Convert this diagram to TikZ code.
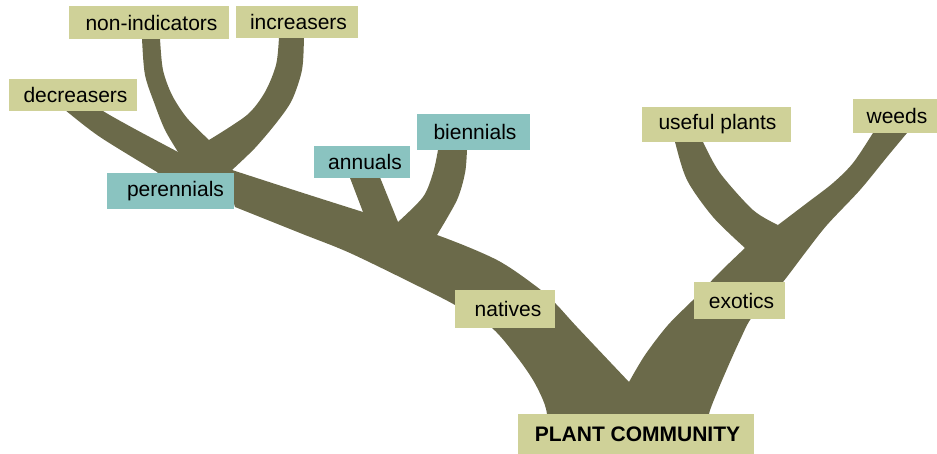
\documentclass[tikz,border=0pt]{standalone}
\usepackage{fontspec}
\setmainfont{Liberation Sans}
\definecolor{barkc}{RGB}{107,106,74}
\definecolor{leafc}{RGB}{207,209,152}
\definecolor{tealc}{RGB}{138,195,192}
\begin{document}
\begin{tikzpicture}[x=1pt,y=-1pt,
  font=\fontsize{21}{25}\selectfont,
  bark/.style={fill=barkc},
  lbox/.style={fill=leafc, inner sep=0pt, text=black},
  tbox/.style={fill=tealc, inner sep=0pt, text=black}]
\useasboundingbox (0,0) rectangle (937,454);

% ---- left group: decreasers, non-indicators, increasers ----
\fill[bark] plot[smooth] coordinates {(57,103) (65,110) (100,137) (157,172)} -- (200,195) -- (215,165)
  -- plot[smooth] coordinates {(178,152) (133,128) (103,111) (96,104)} -- cycle;
\fill[bark] plot[smooth] coordinates {(142,30) (142,39) (145,75) (155,105) (165,130) (178,152)} -- (195,175)
  -- plot[smooth] coordinates {(209,140) (187,118) (172,95) (163,70) (160,39) (160,30)} -- cycle;
\fill[bark] plot[smooth] coordinates {(279,30) (279,38) (276,65) (265,92) (247,115) (209,140)} -- (200,180)
  -- plot[smooth] coordinates {(232,170) (255,148) (277,122) (292,100) (302,70) (304,38) (304,30)} -- cycle;
\fill[bark] (157,173) -- (178,152) -- (209,140) -- (232,170) -- (234,197) -- (157,197) -- cycle;

% ---- main left limb (natives) ----
\fill[bark] (232,197) -- plot[smooth] coordinates {(232,170) (300,192) (363,212) (437,235) (497,260) (537,287) (556,304) (577,327) (629,382)}
  -- (655,432) -- plot[smooth] coordinates {(547,432) (547,414) (543,400) (533,380) (517,357) (492,328) (455,305) (420,287) (350,253) (300,233) (235,207)} -- cycle;

% annuals and biennials
\fill[bark] (347,170) -- (363,212) -- (368,240) -- (405,240) -- (398,222) -- (377,170) -- cycle;
\fill[bark] plot[smooth] coordinates {(439,140) (438,150) (433,173) (423,197) (398,222)} -- (400,245) -- (440,245)
  -- plot[smooth] coordinates {(437,235) (457,200) (465,173) (467,150) (467,140)} -- cycle;

% ---- right group: useful plants, exotics + weeds ----
\fill[bark] plot[smooth] coordinates {(674,135) (675,142) (687,180) (713,217) (745,248)} -- (765,250)
  -- plot[smooth] coordinates {(778,225) (753,210) (720,173) (703,142) (701,135)} -- cycle;
\fill[bark] plot[smooth] coordinates {(629,382) (645,355) (668,325) (695,298) (720,272) (745,248)} -- (778,225)
  -- plot[smooth] coordinates {(778,225) (807,203) (833,183) (853,163) (873,133) (877,126)} -- (911,126)
  -- plot[smooth] coordinates {(907,133) (887,157) (860,190) (827,225) (805,253) (783,282) (765,303) (750,320) (740,340) (730,362) (718,390) (709,414) (709,432)}
  -- (610,432) -- cycle;

% ---- labels ----
\node[lbox, minimum width=160pt, minimum height=33pt] (nonind) at (149,22.5) {\hspace*{5pt}non-indicators};
\node[lbox, minimum width=122pt, minimum height=32pt] (incr) at (297,22) {\hspace*{3pt}increasers};
\node[lbox, minimum width=128pt, minimum height=32pt] (decr) at (73,95) {\hspace*{5pt}decreasers};
\node[tbox, minimum width=127pt, minimum height=36pt] (peren) at (170.5,191) {\hspace*{10pt}perennials};
\node[tbox, minimum width=96pt, minimum height=32pt] (annu) at (362,162) {\hspace*{6pt}annuals};
\node[tbox, minimum width=113pt, minimum height=36pt] (bienn) at (473.5,132) {\hspace*{3pt}biennials};
\node[lbox, minimum width=100pt, minimum height=38pt] (nat) at (505,309) {\hspace*{6pt}natives};
\node[lbox, minimum width=91pt, minimum height=37pt] (exo) at (739.5,300.5) {\hspace*{4pt}exotics};
\node[lbox, minimum width=149pt, minimum height=35pt] (useful) at (716.5,124.5) {\hspace*{2pt}useful plants};
\node[lbox, minimum width=84pt, minimum height=34pt] (weeds) at (895,116) {\hspace*{4pt}weeds};
\node[lbox, minimum width=236pt, minimum height=40pt, font=\fontsize{21}{25}\selectfont\bfseries] (plant) at (636,434) {\hspace*{3pt}PLANT COMMUNITY};
\end{tikzpicture}
\end{document}
